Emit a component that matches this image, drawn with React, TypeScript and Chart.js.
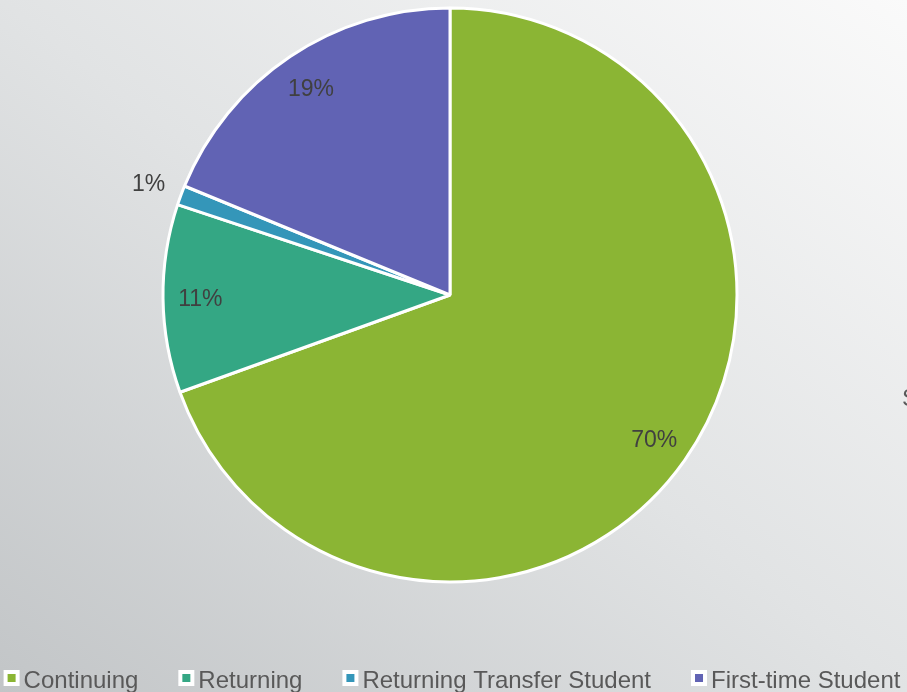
import React, { useEffect, useRef } from "react";
import { Chart, registerables } from "chart.js";

Chart.register(...registerables);

const categories = ["Continuing", "Returning", "Returning Transfer Student", "First-time Student"];
const shares = [69.5, 10.6, 1.1, 18.8];
const sliceColors = ["#8BB534", "#34A784", "#3496B9", "#6163B4"];

const FONT = '"Liberation Sans", Arial, sans-serif';

const pieLabelPlugin = {
  id: "pieLabels",
  afterDatasetsDraw(chart: any) {
    const ctx = chart.ctx;
    const meta = chart.getDatasetMeta(0);
    const data = chart.data.datasets[0].data as number[];
    const total = data.reduce((a, b) => a + b, 0);
    ctx.save();
    ctx.font = `23px ${FONT}`;
    ctx.fillStyle = "#404040";
    ctx.textAlign = "center";
    ctx.textBaseline = "alphabetic";
    meta.data.forEach((arc: any, i: number) => {
      const { x, y, startAngle, endAngle, outerRadius } = arc.getProps(
        ["x", "y", "startAngle", "endAngle", "outerRadius"],
        true
      );
      const pct = Math.round((data[i] / total) * 100 + 1e-9);
      const mid = (startAngle + endAngle) / 2;
      const r = pct < 3 ? outerRadius * 1.12 : outerRadius * 0.87;
      const lx = x + Math.cos(mid) * r;
      const ly = y + Math.sin(mid) * r;
      ctx.fillText(pct + "%", lx, ly + 8);
    });
    ctx.restore();
  },
};

const legendPlugin = {
  id: "customLegend",
  afterDraw(chart: any) {
    const ctx = chart.ctx;
    ctx.save();
    ctx.font = `24px ${FONT}`;
    const box = 16;
    const gapText = 4;
    const gapItem = 40;
    const widths = categories.map((c) => ctx.measureText(c).width);
    const total =
      widths.reduce((s, w) => s + box + gapText + w, 0) + gapItem * (categories.length - 1);
    let x = 452 - total / 2;
    const boxTop = 670;
    const baseY = 688;
    ctx.textAlign = "left";
    ctx.textBaseline = "alphabetic";
    categories.forEach((c, i) => {
      ctx.fillStyle = "#ffffff";
      ctx.fillRect(x, boxTop, box, box);
      ctx.fillStyle = sliceColors[i];
      ctx.fillRect(x + 4, boxTop + 4, 8, 8);
      ctx.fillStyle = "#595959";
      ctx.fillText(c, x + box + gapText, baseY);
      x += box + gapText + widths[i] + gapItem;
    });
    ctx.restore();
  },
};

export default function App() {
  const canvasRef = useRef<HTMLCanvasElement | null>(null);

  useEffect(() => {
    if (!canvasRef.current) return;
    const chart = new Chart(canvasRef.current, {
      type: "pie",
      data: {
        labels: categories,
        datasets: [
          {
            data: shares,
            backgroundColor: sliceColors,
            borderColor: "#ffffff",
            borderWidth: 3,
            radius: 287,
          } as any,
        ],
      },
      options: {
        responsive: false,
        maintainAspectRatio: false,
        animation: false,
        layout: { padding: { left: 0, right: 7, top: 0, bottom: 102 } },
        plugins: {
          legend: { display: false },
          tooltip: { enabled: false },
        },
      },
      plugins: [pieLabelPlugin, legendPlugin],
    });
    return () => chart.destroy();
  }, []);

  return (
    <div
      style={{
        position: "absolute",
        left: 0,
        top: 0,
        width: 907,
        height: 692,
        overflow: "hidden",
        background: "linear-gradient(to top right, #c2c5c7 0%, #e1e3e4 50%, #fafafa 100%)",
      }}
    >
      <canvas
        ref={canvasRef}
        width={907}
        height={692}
        style={{ position: "absolute", left: 0, top: 0, width: 907, height: 692 }}
      />
      <span
        style={{
          position: "absolute",
          left: 902,
          top: 386,
          fontFamily: FONT,
          fontSize: 24,
          lineHeight: "24px",
          color: "#595959",
          whiteSpace: "nowrap",
        }}
      >
        S
      </span>
    </div>
  );
}
